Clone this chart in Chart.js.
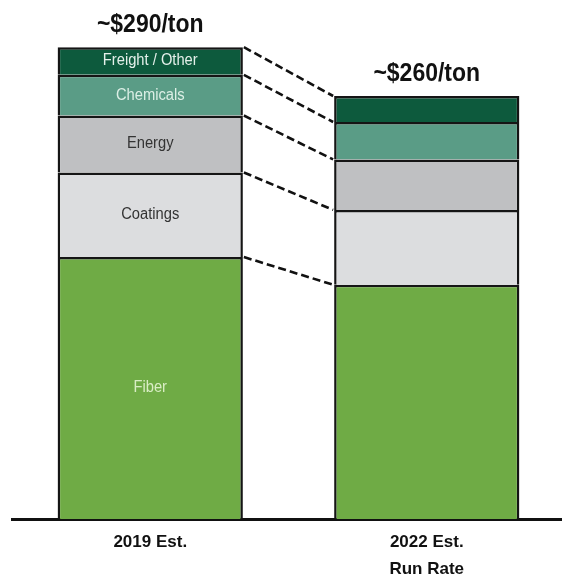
<!DOCTYPE html>
<html>
<head>
<meta charset="utf-8">
<script src="https://cdn.jsdelivr.net/npm/chart.js@4"></script>
<style>
  html, body { margin: 0; padding: 0; background: #fff; overflow: hidden; }
  #wrap { width: 566px; height: 584px; }
</style>
</head>
<body>
<div id="wrap"><canvas id="costChart"></canvas></div>
<script>
// cost per ton, bottom segment first
const categories = [['2019 Est.'], ['2022 Est.', 'Run Rate']];
const components = ['Fiber', 'Coatings', 'Energy', 'Chemicals', 'Freight / Other'];
const fiber = [161, 144];
const coatings = [52, 46];
const energy = [35, 31];
const chemicals = [25, 23];
const freight = [17, 16];
const totalLabels = ['~$290/ton', '~$260/ton'];

const seriesValues = [fiber, coatings, energy, chemicals, freight];
const fills = ['#6fab45', '#dcdddf', '#bfc0c2', '#5a9c86', '#0d5a3d'];
const textColors = ['#d9edc4', '#333333', '#333333', '#dcefe6', '#e4f0ea'];

const FONT = '"Liberation Sans Narrow", "Liberation Sans", Arial, sans-serif';

// narrow-looking text: squeeze horizontally around the anchor point
function squeezed(ctx, text, x, y, sx) {
  ctx.save();
  ctx.translate(x, y);
  ctx.scale(sx, 1);
  ctx.fillText(text, 0, 0);
  ctx.restore();
}

// labels for each segment of the first bar, totals above both bars,
// dashed connectors between matching segment tops
const annotate = {
  id: 'annotate',
  afterDatasetsDraw(chart) {
    const ctx = chart.ctx;
    const metas = components.map((_, i) => chart.getDatasetMeta(i));

    ctx.save();
    ctx.textAlign = 'center';
    ctx.textBaseline = 'middle';
    ctx.font = '16px ' + FONT;
    metas.forEach((meta, i) => {
      const el = meta.data[0];
      ctx.fillStyle = textColors[i];
      squeezed(ctx, components[i], el.x, (el.y + el.base) / 2, 0.92);
    });

    const top = metas[metas.length - 1];
    ctx.font = 'bold 25px ' + FONT;
    ctx.fillStyle = '#111';
    top.data.forEach((el, j) => {
      squeezed(ctx, totalLabels[j], el.x, el.y - 22, 0.92);
    });

    ctx.strokeStyle = '#111';
    ctx.lineWidth = 2.6;
    ctx.setLineDash([8, 4]);
    metas.forEach(meta => {
      const a = meta.data[0], b = meta.data[1];
      ctx.beginPath();
      ctx.moveTo(a.x + a.width / 2 + 1, a.y);
      ctx.lineTo(b.x - b.width / 2 - 1, b.y);
      ctx.stroke();
    });
    ctx.restore();
  }
};

new Chart(document.getElementById('costChart'), {
  type: 'bar',
  data: {
    labels: categories,
    datasets: seriesValues.map((vals, i) => ({
      label: components[i],
      data: vals,
      backgroundColor: fills[i],
      borderColor: '#151515',
      borderWidth: 2.5,
      borderSkipped: 'start',
      barPercentage: 0.67,
      categoryPercentage: 1
    }))
  },
  options: {
    responsive: true,
    maintainAspectRatio: false,
    animation: false,
    layout: { padding: { left: 12, right: 1, top: 0, bottom: 0 } },
    plugins: {
      legend: { display: false },
      tooltip: { enabled: false }
    },
    scales: {
      x: {
        stacked: true,
        grid: { display: false, drawTicks: false },
        border: { display: true, color: '#111', width: 3 },
        ticks: {
          padding: 10,
          color: '#111',
          font: { family: FONT, size: 17, weight: 'bold', lineHeight: 1.6 }
        },
        afterFit(scale) { scale.height = 65; }
      },
      y: {
        stacked: true,
        display: false,
        min: 0,
        max: 319
      }
    }
  },
  plugins: [annotate]
});
</script>
</body>
</html>
